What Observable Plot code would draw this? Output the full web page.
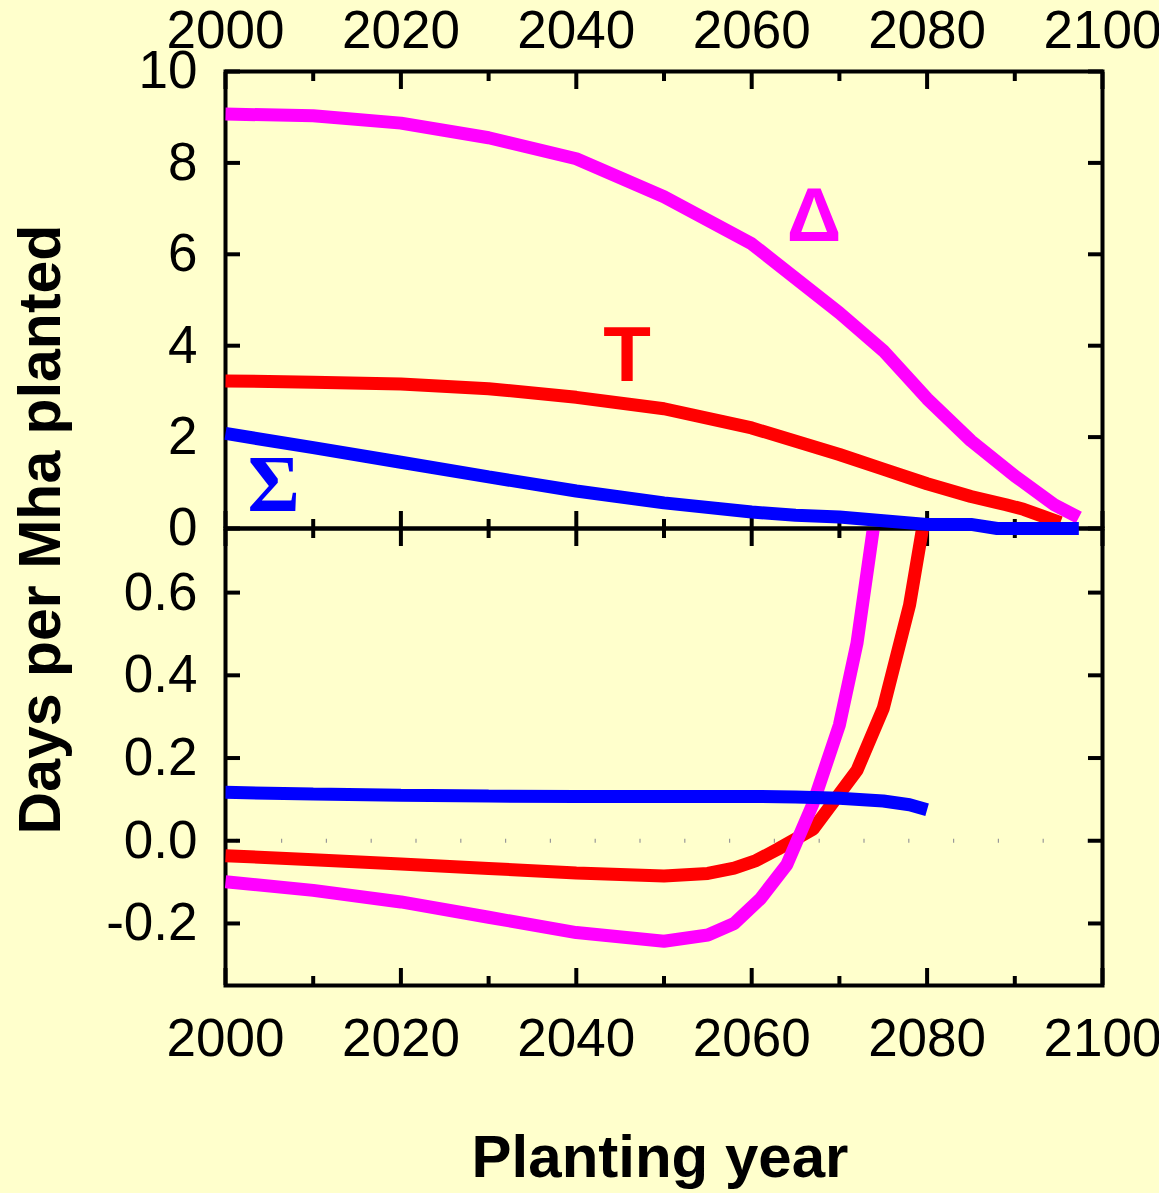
<!DOCTYPE html>
<html><head><meta charset="utf-8">
<script src="https://cdn.jsdelivr.net/npm/d3@7"></script>
<script src="https://cdn.jsdelivr.net/npm/@observablehq/plot@0.6"></script>
<style>
html,body{margin:0;padding:0;background:#ffffcc;}
#wrap{position:relative;width:1159px;height:1193px;background:#ffffcc;overflow:hidden;font-family:"Liberation Sans",Arial,sans-serif;}
#wrap svg{position:absolute;left:0;top:0;}
.ttl{position:absolute;font-weight:bold;color:#000;white-space:nowrap;text-align:center;}
</style></head><body>
<div id="wrap"></div>
<script>
// ---- tick values ----
const xTicks = [2000, 2020, 2040, 2060, 2080, 2100];
const xMinorTicks = [2010, 2030, 2050, 2070, 2090];
const yTicksTop = [0, 2, 4, 6, 8, 10];
const yTicksBottom = [-0.2, 0.0, 0.2, 0.4, 0.6];

// ---- top panel series ----
const topDeltaYears  = [2000, 2010, 2020, 2030, 2040, 2050, 2060, 2070, 2075, 2080, 2085, 2090, 2094.5, 2097.3];
const topDeltaValues = [9.07, 9.03, 8.87, 8.55, 8.09, 7.26, 6.23, 4.72, 3.89, 2.84, 1.92, 1.15, 0.52, 0.24];
const topTYears      = [2000, 2010, 2020, 2030, 2040, 2050, 2060, 2070, 2075, 2080, 2085, 2089, 2091, 2095.2];
const topTValues     = [3.23, 3.20, 3.16, 3.06, 2.87, 2.62, 2.20, 1.62, 1.30, 0.98, 0.70, 0.52, 0.42, 0.13];
const topSigmaYears  = [2000, 2010, 2020, 2030, 2040, 2050, 2060, 2065, 2070, 2075, 2080, 2085, 2088, 2097.3];
const topSigmaValues = [2.08, 1.77, 1.45, 1.13, 0.82, 0.56, 0.36, 0.29, 0.25, 0.17, 0.09, 0.09, 0.0, 0.0];

// ---- bottom panel series ----
const botSigmaYears  = [2000, 2010, 2020, 2030, 2040, 2050, 2060, 2065, 2070, 2075, 2078, 2080];
const botSigmaValues = [0.117, 0.113, 0.110, 0.108, 0.107, 0.107, 0.107, 0.106, 0.103, 0.096, 0.087, 0.075];
const botTYears      = [2000, 2010, 2020, 2030, 2040, 2050, 2055, 2058, 2060.5, 2063, 2067, 2072, 2075, 2078, 2080];
const botTValues     = [-0.036, -0.046, -0.056, -0.067, -0.078, -0.085, -0.079, -0.066, -0.048, -0.02, 0.028, 0.17, 0.32, 0.57, 0.82];
const botDeltaYears  = [2000, 2010, 2020, 2030, 2040, 2050, 2055, 2058, 2061, 2064, 2067, 2070, 2072, 2073.5, 2074.5];
const botDeltaValues = [-0.099, -0.12, -0.148, -0.185, -0.222, -0.243, -0.228, -0.2, -0.14, -0.058, 0.09, 0.28, 0.477, 0.70, 0.85];

// ---- series labels ----
const labelText   = ["\u0394", "T", "\u03A3"];
const labelYear   = [2067.1, 2045.8, 2005.5];
const labelValue  = [6.82, 3.78, 0.94];
const labelColor  = ["#ff00ff", "#ff0000", "#0000ff"];

const rows = (ys, vs) => ys.map((y, i) => ({year: y, value: vs[i]}));
const labels = labelText.map((t, i) => ({t, year: labelYear[i], value: labelValue[i], color: labelColor[i]}));

const FONT = "Liberation Sans, Arial, sans-serif";
const W = 1159, H = 1193;
const TICK_FONT = 53;
const lineStyle = {x: "year", y: "value", strokeWidth: 13, strokeLinecap: "butt", strokeLinejoin: "miter"};

function tickMarks(yTicks) {
  return [
    Plot.axisX(xTicks, {anchor: "top", tickSize: -17, strokeWidth: 4, fill: "none"}),
    Plot.axisX(xMinorTicks, {anchor: "top", tickSize: -9, strokeWidth: 4, fill: "none"}),
    Plot.axisX(xTicks, {anchor: "bottom", tickSize: -17, strokeWidth: 4, fill: "none"}),
    Plot.axisX(xMinorTicks, {anchor: "bottom", tickSize: -9, strokeWidth: 4, fill: "none"}),
    Plot.axisY(yTicks, {anchor: "left", tickSize: -15, strokeWidth: 4, fill: "none"}),
    Plot.axisY(yTicks, {anchor: "right", tickSize: -15, strokeWidth: 4, fill: "none"})
  ];
}

// bottom panel
const bottomChart = Plot.plot({
  width: W, height: H,
  marginLeft: 225, marginRight: 57, marginTop: 528, marginBottom: 208,
  style: {background: "transparent", fontFamily: FONT, color: "black"},
  x: {domain: [2000, 2100]},
  y: {domain: [-0.35, 0.755]},
  marks: [
    Plot.ruleY([0], {stroke: "#999", strokeWidth: 4, strokeDasharray: "1.2 43.6", strokeDashoffset: 33.6}),
    Plot.frame({stroke: "black", strokeWidth: 4}),
    ...tickMarks(yTicksBottom),
    Plot.axisX(xTicks, {anchor: "bottom", tickSize: 0, tickPadding: 33, tickFormat: "d", fontSize: TICK_FONT, label: null}),
    Plot.axisY(yTicksBottom, {anchor: "left", tickSize: 0, tickPadding: 28, tickFormat: d => d.toFixed(1), fontSize: TICK_FONT, label: null}),
    Plot.line(rows(botTYears, botTValues), {...lineStyle, stroke: "#ff0000", clip: true}),
    Plot.line(rows(botDeltaYears, botDeltaValues), {...lineStyle, stroke: "#ff00ff", clip: true}),
    Plot.line(rows(botSigmaYears, botSigmaValues), {...lineStyle, stroke: "#0000ff", clip: true})
  ]
});

// top panel
const topChart = Plot.plot({
  width: W, height: 568,
  marginLeft: 225, marginRight: 57, marginTop: 71, marginBottom: 40,
  style: {background: "transparent", fontFamily: FONT, color: "black"},
  x: {domain: [2000, 2100]},
  y: {domain: [0, 10]},
  marks: [
    Plot.frame({stroke: "black", strokeWidth: 4}),
    ...tickMarks(yTicksTop),
    Plot.axisX(xTicks, {anchor: "top", tickSize: 0, tickPadding: 24, tickFormat: "d", fontSize: TICK_FONT, label: null}),
    Plot.axisY(yTicksTop, {anchor: "left", tickSize: 0, tickPadding: 28, tickFormat: d => String(d), fontSize: TICK_FONT, label: null}),
    Plot.line(rows(topTYears, topTValues), {...lineStyle, stroke: "#ff0000"}),
    Plot.line(rows(topDeltaYears, topDeltaValues), {...lineStyle, stroke: "#ff00ff"}),
    Plot.line(rows(topSigmaYears, topSigmaValues), {...lineStyle, stroke: "#0000ff"}),
    Plot.text(labels.filter(d => d.t === "\u0394"), {x: "year", y: "value", text: "t", fill: "color", fontSize: 76, fontWeight: "bold", fontFamily: FONT}),
    Plot.text(labels.filter(d => d.t === "T"), {x: "year", y: "value", text: "t", fill: "color", fontSize: 78, fontWeight: "bold", fontFamily: FONT}),
    Plot.text(labels.filter(d => d.t === "\u03A3"), {x: "year", y: "value", text: "t", fill: "color", fontSize: 80, fontWeight: "bold", fontFamily: "Liberation Serif, Times New Roman, serif"})
  ]
});

const wrap = document.getElementById("wrap");
wrap.appendChild(bottomChart);
wrap.appendChild(topChart);

const xt = document.createElement("div");
xt.className = "ttl";
xt.textContent = "Planting year";
Object.assign(xt.style, {left: "160px", width: "1000px", top: "1127px", fontSize: "60px", lineHeight: "60px"});
wrap.appendChild(xt);

const yt = document.createElement("div");
yt.className = "ttl";
yt.textContent = "Days per Mha planted";
Object.assign(yt.style, {left: (40 - 350) + "px", width: "700px", top: (529 - 29.5) + "px", height: "59px", fontSize: "59px", lineHeight: "59px", transform: "rotate(-90deg)"});
wrap.appendChild(yt);
</script></body></html>
